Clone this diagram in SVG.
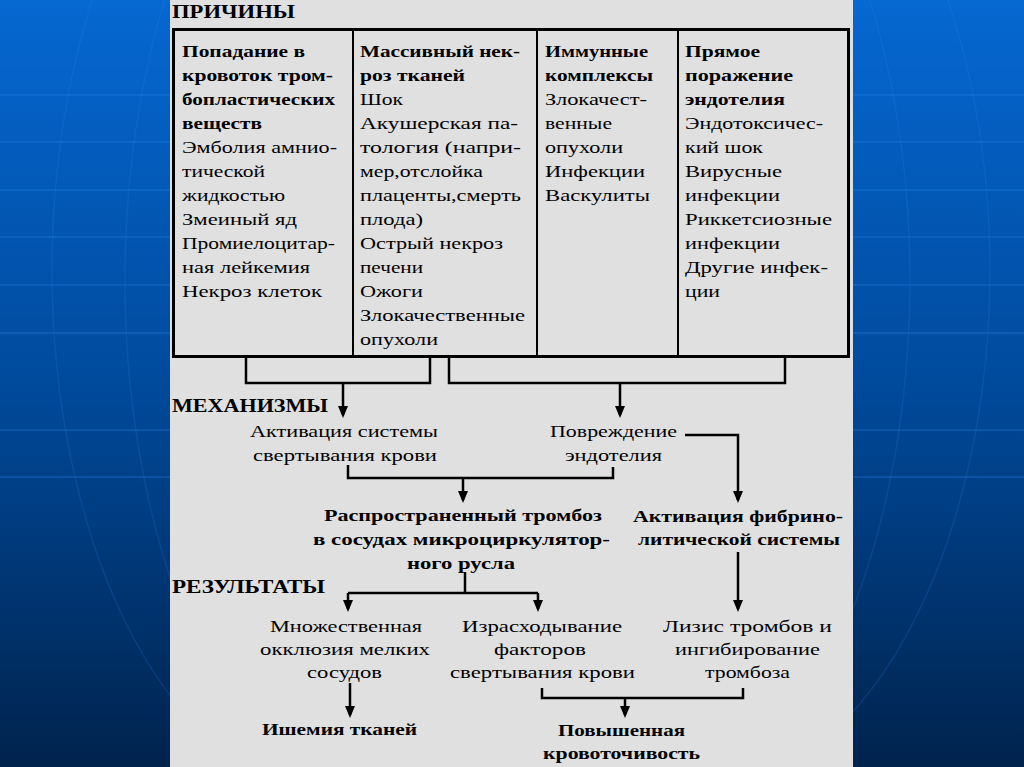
<svg xmlns="http://www.w3.org/2000/svg" width="1024" height="767" viewBox="0 0 1024 767">
<defs>
<linearGradient id="bg" x1="0" y1="0" x2="0" y2="1">
<stop offset="0" stop-color="#0668d2"/>
<stop offset="0.5" stop-color="#004a9c"/>
<stop offset="1" stop-color="#00234d"/>
</linearGradient>
<marker id="ah" viewBox="0 0 12 10" refX="9" refY="5" markerWidth="12" markerHeight="10" markerUnits="userSpaceOnUse" orient="auto">
<path d="M0,0 L12,5 L0,10 z" fill="#000"/>
</marker>
<style>
text{font-family:"Liberation Serif","DejaVu Serif","Times New Roman",serif;font-size:17px;fill:#000}
.b{font-weight:bold}
.h{font-weight:bold;font-size:19px}
.c{fill:none;stroke:#000;stroke-width:2.5}
.a{fill:none;stroke:#000;stroke-width:2.5;marker-end:url(#ah)}
.gl{stroke:#2a86ea;stroke-width:1.2;opacity:0.5}
.arc{fill:none;stroke:#2a86ea;stroke-width:1.5;opacity:0.18}
</style>
</defs>
<rect x="0" y="0" width="1024" height="767" fill="url(#bg)"/>
<g id="bg-lines">
<line class="gl" x1="0" y1="95" x2="1024" y2="95"/>
<line class="gl" x1="0" y1="142" x2="1024" y2="142"/>
<line class="gl" x1="0" y1="190" x2="1024" y2="190"/>
<line class="gl" x1="0" y1="237" x2="1024" y2="237"/>
<line class="gl" x1="0" y1="285" x2="1024" y2="285"/>
<line class="gl" x1="0" y1="333" x2="1024" y2="333"/>
<line class="gl" x1="0" y1="430" x2="1024" y2="430" opacity="0.2"/>
<line class="gl" x1="0" y1="477" x2="1024" y2="477" opacity="0.2"/>
<ellipse class="arc" cx="330" cy="270" rx="278" ry="520"/>
<ellipse class="arc" cx="420" cy="280" rx="295" ry="560"/>
<ellipse class="arc" cx="700" cy="270" rx="290" ry="520"/>
<ellipse class="arc" cx="610" cy="280" rx="300" ry="560"/>
</g>
<rect id="panel" x="170" y="0" width="683" height="767" fill="#e0e0e0"/>

<g id="headings">
<text class="h" x="172" y="18" textLength="123" lengthAdjust="spacingAndGlyphs">ПРИЧИНЫ</text>
<text class="h" x="172" y="412" textLength="156" lengthAdjust="spacingAndGlyphs">МЕХАНИЗМЫ</text>
<text class="h" x="172" y="593" textLength="153" lengthAdjust="spacingAndGlyphs">РЕЗУЛЬТАТЫ</text>
</g>

<g id="causes-table">
<rect x="173.5" y="29.5" width="675" height="327" fill="none" stroke="#000" stroke-width="3"/>
<line x1="353" y1="29" x2="353" y2="357" stroke="#000" stroke-width="2"/>
<line x1="537" y1="29" x2="537" y2="357" stroke="#000" stroke-width="2"/>
<line x1="678" y1="29" x2="678" y2="357" stroke="#000" stroke-width="2"/>
</g>

<g id="cause-thromboplastic">
<text class="b" x="182" y="57" textLength="123" lengthAdjust="spacingAndGlyphs">Попадание в</text>
<text class="b" x="182" y="81" textLength="151" lengthAdjust="spacingAndGlyphs">кровоток тром-</text>
<text class="b" x="182" y="105" textLength="153" lengthAdjust="spacingAndGlyphs">бопластических</text>
<text class="b" x="182" y="129" textLength="80" lengthAdjust="spacingAndGlyphs">веществ</text>
<text x="182" y="153" textLength="155" lengthAdjust="spacingAndGlyphs">Эмболия амнио-</text>
<text x="182" y="177" textLength="83" lengthAdjust="spacingAndGlyphs">тической</text>
<text x="182" y="201" textLength="103" lengthAdjust="spacingAndGlyphs">жидкостью</text>
<text x="182" y="225" textLength="115" lengthAdjust="spacingAndGlyphs">Змеиный яд</text>
<text x="182" y="249" textLength="153" lengthAdjust="spacingAndGlyphs">Промиелоцитар-</text>
<text x="182" y="273" textLength="128" lengthAdjust="spacingAndGlyphs">ная лейкемия</text>
<text x="182" y="297" textLength="140" lengthAdjust="spacingAndGlyphs">Некроз клеток</text>
</g>

<g id="cause-necrosis">
<text class="b" x="360" y="57" textLength="160" lengthAdjust="spacingAndGlyphs">Массивный нек-</text>
<text class="b" x="360" y="81" textLength="105" lengthAdjust="spacingAndGlyphs">роз тканей</text>
<text x="360" y="105" textLength="43" lengthAdjust="spacingAndGlyphs">Шок</text>
<text x="360" y="129" textLength="158" lengthAdjust="spacingAndGlyphs">Акушерская па-</text>
<text x="360" y="153" textLength="161" lengthAdjust="spacingAndGlyphs">тология (напри-</text>
<text x="360" y="177" textLength="123" lengthAdjust="spacingAndGlyphs">мер,отслойка</text>
<text x="360" y="201" textLength="161" lengthAdjust="spacingAndGlyphs">плаценты,смерть</text>
<text x="360" y="225" textLength="63" lengthAdjust="spacingAndGlyphs">плода)</text>
<text x="360" y="249" textLength="143" lengthAdjust="spacingAndGlyphs">Острый некроз</text>
<text x="360" y="273" textLength="63" lengthAdjust="spacingAndGlyphs">печени</text>
<text x="360" y="297" textLength="63" lengthAdjust="spacingAndGlyphs">Ожоги</text>
<text x="360" y="321" textLength="165" lengthAdjust="spacingAndGlyphs">Злокачественные</text>
<text x="360" y="345" textLength="78" lengthAdjust="spacingAndGlyphs">опухоли</text>
</g>

<g id="cause-immune">
<text class="b" x="545" y="57" textLength="103" lengthAdjust="spacingAndGlyphs">Иммунные</text>
<text class="b" x="545" y="81" textLength="108" lengthAdjust="spacingAndGlyphs">комплексы</text>
<text x="545" y="105" textLength="102" lengthAdjust="spacingAndGlyphs">Злокачест-</text>
<text x="545" y="129" textLength="67" lengthAdjust="spacingAndGlyphs">венные</text>
<text x="545" y="153" textLength="78" lengthAdjust="spacingAndGlyphs">опухоли</text>
<text x="545" y="177" textLength="100" lengthAdjust="spacingAndGlyphs">Инфекции</text>
<text x="545" y="201" textLength="105" lengthAdjust="spacingAndGlyphs">Васкулиты</text>
</g>

<g id="cause-endothelium">
<text class="b" x="685" y="57" textLength="75" lengthAdjust="spacingAndGlyphs">Прямое</text>
<text class="b" x="685" y="81" textLength="108" lengthAdjust="spacingAndGlyphs">поражение</text>
<text class="b" x="685" y="105" textLength="100" lengthAdjust="spacingAndGlyphs">эндотелия</text>
<text x="685" y="129" textLength="138" lengthAdjust="spacingAndGlyphs">Эндотоксичес-</text>
<text x="685" y="153" textLength="78" lengthAdjust="spacingAndGlyphs">кий шок</text>
<text x="685" y="177" textLength="97" lengthAdjust="spacingAndGlyphs">Вирусные</text>
<text x="685" y="201" textLength="95" lengthAdjust="spacingAndGlyphs">инфекции</text>
<text x="685" y="225" textLength="147" lengthAdjust="spacingAndGlyphs">Риккетсиозные</text>
<text x="685" y="249" textLength="95" lengthAdjust="spacingAndGlyphs">инфекции</text>
<text x="685" y="273" textLength="143" lengthAdjust="spacingAndGlyphs">Другие инфек-</text>
<text x="685" y="297" textLength="35" lengthAdjust="spacingAndGlyphs">ции</text>
</g>

<g id="connectors">
<path class="c" d="M246,357 V383 H430 V357"/>
<path class="a" d="M343,383 V415"/>
<path class="c" d="M449,357 V383 H785 V357"/>
<path class="a" d="M620,383 V415"/>
<path class="c" d="M348,465 V478 H613 V467"/>
<path class="a" d="M463,478 V500"/>
<path class="a" d="M685,435 H738 V500"/>
<path class="a" d="M738,552 V609"/>
<path class="c" d="M465,572 V593 M348,593 H538"/>
<path class="a" d="M348,593 V609"/>
<path class="a" d="M538,593 V609"/>
<path class="a" d="M350,683 V715"/>
<path class="c" d="M542,688 V698 H743 V688"/>
<path class="a" d="M625,698 V715"/>
</g>

<g id="mech-coagulation">
<text x="250" y="437" textLength="188" lengthAdjust="spacingAndGlyphs">Активация системы</text>
<text x="253" y="461" textLength="184" lengthAdjust="spacingAndGlyphs">свертывания крови</text>
</g>
<g id="mech-endothelial-damage">
<text x="550" y="437" textLength="127" lengthAdjust="spacingAndGlyphs">Повреждение</text>
<text x="565" y="461" textLength="97" lengthAdjust="spacingAndGlyphs">эндотелия</text>
</g>
<g id="mech-thrombosis">
<text class="b" x="324" y="521" textLength="278" lengthAdjust="spacingAndGlyphs">Распространенный тромбоз</text>
<text class="b" x="313" y="545" textLength="297" lengthAdjust="spacingAndGlyphs">в сосудах микроциркулятор-</text>
<text class="b" x="407" y="569" textLength="108" lengthAdjust="spacingAndGlyphs">ного русла</text>
</g>
<g id="mech-fibrinolysis">
<text class="b" x="633" y="522" textLength="210" lengthAdjust="spacingAndGlyphs">Активация фибрино-</text>
<text class="b" x="638" y="545" textLength="202" lengthAdjust="spacingAndGlyphs">литической системы</text>
</g>
<g id="res-occlusion">
<text x="270" y="632" textLength="152" lengthAdjust="spacingAndGlyphs">Множественная</text>
<text x="260" y="655" textLength="170" lengthAdjust="spacingAndGlyphs">окклюзия мелких</text>
<text x="307" y="678" textLength="75" lengthAdjust="spacingAndGlyphs">сосудов</text>
</g>
<g id="res-consumption">
<text x="462" y="632" textLength="160" lengthAdjust="spacingAndGlyphs">Израсходывание</text>
<text x="494" y="655" textLength="92" lengthAdjust="spacingAndGlyphs">факторов</text>
<text x="450" y="678" textLength="185" lengthAdjust="spacingAndGlyphs">свертывания крови</text>
</g>
<g id="res-lysis">
<text x="663" y="632" textLength="169" lengthAdjust="spacingAndGlyphs">Лизис тромбов и</text>
<text x="675" y="655" textLength="145" lengthAdjust="spacingAndGlyphs">ингибирование</text>
<text x="705" y="678" textLength="85" lengthAdjust="spacingAndGlyphs">тромбоза</text>
</g>
<g id="res-ischemia">
<text class="b" x="262" y="735" textLength="155" lengthAdjust="spacingAndGlyphs">Ишемия тканей</text>
</g>
<g id="res-bleeding">
<text class="b" x="558" y="736" textLength="127" lengthAdjust="spacingAndGlyphs">Повышенная</text>
<text class="b" x="543" y="759" textLength="157" lengthAdjust="spacingAndGlyphs">кровоточивость</text>
</g>
</svg>
